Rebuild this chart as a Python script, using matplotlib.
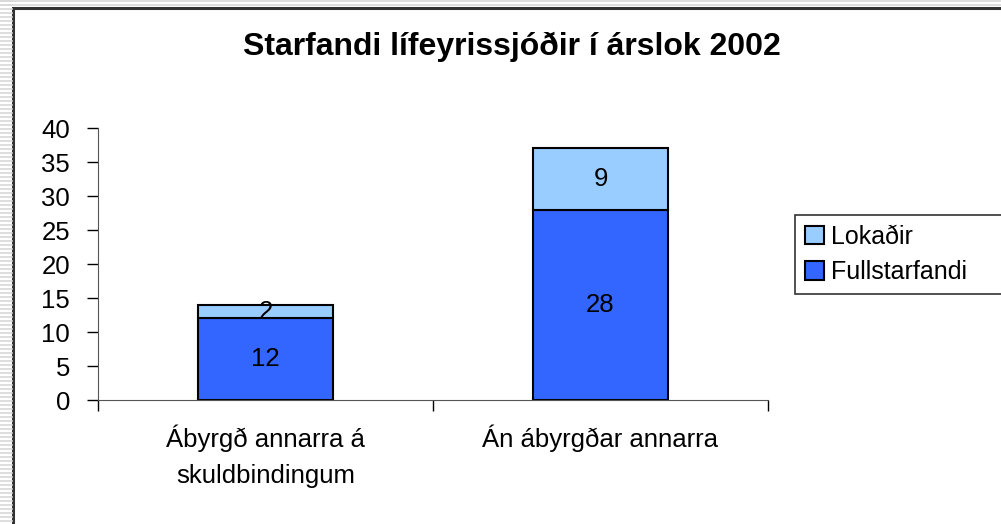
import matplotlib.pyplot as plt
from matplotlib.patches import Rectangle
from matplotlib.lines import Line2D
import numpy as np

plt.rcParams['font.family'] = ['Liberation Sans', 'DejaVu Sans']

categories = ["Ábyrgð annarra á\nskuldbindingum", "Án ábyrgðar annarra"]
fullstarfandi = [12, 28]
lokadir = [2, 9]
title = "Starfandi lífeyrissjóðir í árslok 2002"

W, H = 1001, 524
fig = plt.figure(figsize=(W / 100, H / 100), dpi=100)

# striped frame outside the chart area
for y in np.arange(1, H, 4):
    fig.add_artist(Line2D([0, 12 / W], [1 - y / H, 1 - y / H], color="#d8d8d8", lw=1.2))
for y in np.arange(1, 7, 4):
    fig.add_artist(Line2D([0, 1], [1 - y / H, 1 - y / H], color="#d8d8d8", lw=1.2))
fig.add_artist(Rectangle((13 / W, -0.01), 1.01, 1 - 8 / H + 0.01, transform=fig.transFigure,
                         facecolor="white", edgecolor="#333333", lw=2.2, zorder=0))

ax = fig.add_axes([98 / W, 1 - 400 / H, 670 / W, 272 / H])
x = np.arange(len(categories))
w = 0.403
ax.bar(x, fullstarfandi, w, color="#3366ff", edgecolor="black", lw=1.5, label="Fullstarfandi")
ax.bar(x, lokadir, w, bottom=fullstarfandi, color="#99ccff", edgecolor="black", lw=1.5,
       label="Lokaðir")

for i in range(len(x)):
    ax.text(x[i], fullstarfandi[i] / 2, str(fullstarfandi[i]), ha="center", va="center",
            fontsize=18.5)
    ax.text(x[i], fullstarfandi[i] + lokadir[i] / 2, str(lokadir[i]), ha="center",
            va="center", fontsize=18.5)

ax.set_xlim(-0.5, 1.5)
ax.set_ylim(0, 40)
ax.set_yticks(range(0, 41, 5))
ax.tick_params(axis="y", labelsize=18.5, length=8, width=1, pad=12)
ax.set_xticks(x)
ax.set_xticklabels(categories, fontsize=18.5, linespacing=1.6)
ax.tick_params(axis="x", length=0, pad=18)
ax.set_xticks([-0.5, 0.5, 1.5], minor=True)
ax.tick_params(axis="x", which="minor", length=8, width=1)
for s in ["top", "right"]:
    ax.spines[s].set_visible(False)
for s in ["left", "bottom"]:
    ax.spines[s].set_color("#555555")
ax.patch.set_alpha(0)

fig.text(512 / W, 1 - 47 / H, title, ha="center", va="center", fontsize=23,
         fontweight="bold")

handles, labels = ax.get_legend_handles_labels()
leg = fig.legend(handles[::-1], labels[::-1], loc="upper left",
                 bbox_to_anchor=(795 / W, 1 - 298 / H, 215 / W, 83 / H), mode="expand",
                 borderaxespad=0, fontsize=18, frameon=True, fancybox=False,
                 edgecolor="black", handlelength=0.75, handleheight=0.75,
                 handletextpad=0.3, borderpad=0.4, labelspacing=0.45)
leg.get_frame().set_linewidth(1.2)

fig.savefig("out.png", dpi=100)
